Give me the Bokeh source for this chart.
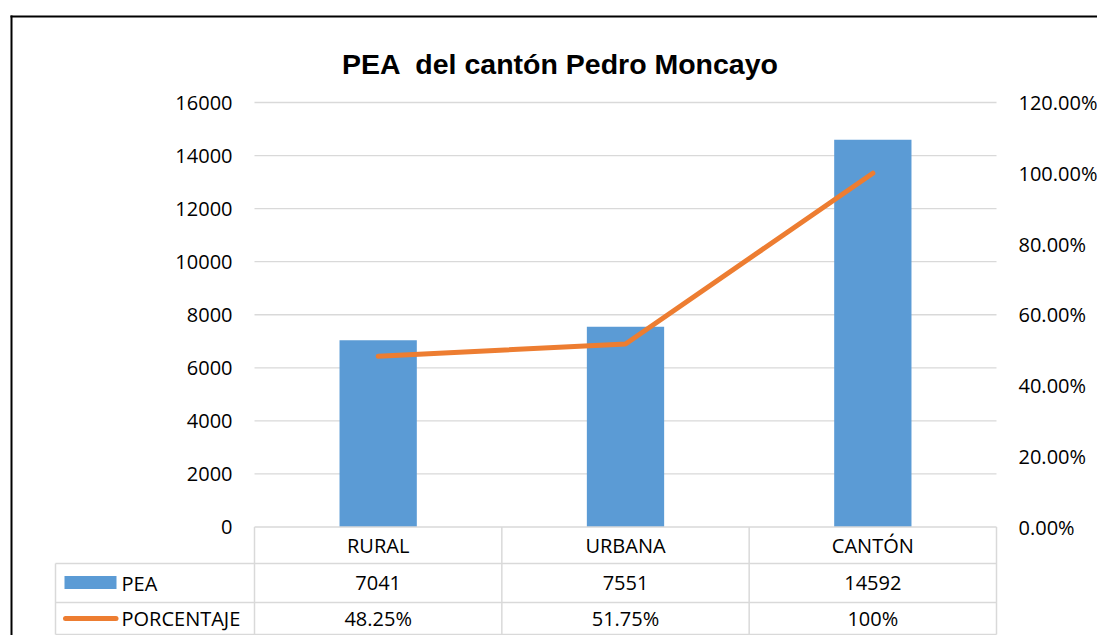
from bokeh.plotting import figure
from bokeh.models import Range1d
from bokeh.core.properties import value
from bokeh.embed import file_html
from bokeh.resources import INLINE

# ---------------- data ----------------
title = "PEA \u00a0del cantón Pedro Moncayo"
categories = ["RURAL", "URBANA", "CANTÓN"]
pea = [7041, 7551, 14592]
porcentaje = [0.4825, 0.5175, 1.0]
porcentaje_labels = ["48.25%", "51.75%", "100%"]
series_names = ["PEA", "PORCENTAJE"]
left_ticks = [0, 2000, 4000, 6000, 8000, 10000, 12000, 14000, 16000]
left_tick_labels = ["0", "2000", "4000", "6000", "8000", "10000", "12000", "14000", "16000"]
right_ticks = [0.0, 0.2, 0.4, 0.6, 0.8, 1.0, 1.2]
right_tick_labels = ["0.00%", "20.00%", "40.00%", "60.00%", "80.00%", "100.00%", "120.00%"]

# ---------------- layout (pixels) ----------------
W, H = 1097, 635
OFF = 0
PX_L, PX_R = 254, 996          # plot area left/right
PY0, PYMAX = 526.5, 102        # pixel of value 0 and of axis max
YMAX = left_ticks[-1]
Y2MAX = right_ticks[-1]
n = len(categories)
kx = (PX_R - PX_L) / n
ky = (PY0 - PYMAX) / YMAX


def X(px):
    return (px - PX_L) / kx


def Y(py):
    return (PY0 - py) / ky


FONT = value("Open Sans")
TXT = "#000000"
GRID = "#D9D9D9"
BLUE = "#5B9BD5"
ORANGE = "#ED7D31"

p = figure(width=W, height=H,
           x_range=Range1d(X(OFF), X(OFF + W)),
           y_range=Range1d(Y(OFF + H), Y(OFF)),
           output_backend="svg", toolbar_location=None,
           x_axis_location=None, y_axis_location=None,
           min_border=0, outline_line_color=None,
           background_fill_color="white", border_fill_color="white")
p.grid.visible = False
p.extra_y_ranges = {"pct": Range1d(p.y_range.start * Y2MAX / YMAX,
                                   p.y_range.end * Y2MAX / YMAX)}

xs = [i + 0.5 for i in range(n)]

# gridlines
g = left_ticks[1:]
p.segment(x0=[0] * len(g), x1=[n] * len(g), y0=g, y1=g,
          line_color=GRID, line_width=1.3)

# bars
p.vbar(x=xs, top=pea, width=0.3125, fill_color=BLUE, line_color=None)

# percentage line (secondary axis)
p.line(xs, porcentaje, y_range_name="pct", line_color=ORANGE,
       line_width=5, line_cap="round", line_join="round")

# left axis labels
p.text(x=[X(232)] * len(left_ticks), y=left_ticks, text=left_tick_labels,
       text_align="right", text_baseline="middle", text_font=FONT,
       text_font_size="20px", text_color=TXT)

# right axis labels
p.text(x=[X(1018)] * len(right_ticks), y=right_ticks, text=right_tick_labels,
       y_range_name="pct", text_align="left", text_baseline="middle",
       text_font=FONT, text_font_size="20px", text_color=TXT)

# ---------------- data table ----------------
ROW = [527, 563, 602, 634]
LEG_L = 55
TBL = "#D9D9D9"
# horizontal lines
p.segment(x0=[0], x1=[n], y0=[0], y1=[0], line_color=TBL, line_width=1.5)
hy = [Y(r) for r in ROW[1:]]
p.segment(x0=[X(LEG_L)] * len(hy), x1=[n] * len(hy), y0=hy, y1=hy,
          line_color=TBL, line_width=1.5)
# vertical lines
vx = list(range(n + 1))
p.segment(x0=vx, x1=vx, y0=[0] * len(vx), y1=[Y(ROW[-1])] * len(vx),
          line_color=TBL, line_width=1.5)
p.segment(x0=[X(LEG_L)], x1=[X(LEG_L)], y0=[Y(ROW[1])], y1=[Y(ROW[-1])],
          line_color=TBL, line_width=1.5)

row_c = [(ROW[i] + ROW[i + 1]) / 2 for i in range(3)]
p.text(x=xs, y=[Y(row_c[0])] * n, text=categories, text_align="center",
       text_baseline="middle", text_font=FONT, text_font_size="20px", text_color=TXT)
p.text(x=xs, y=[Y(row_c[1])] * n, text=[str(v) for v in pea], text_align="center",
       text_baseline="middle", text_font=FONT, text_font_size="20px", text_color=TXT)
p.text(x=xs, y=[Y(row_c[2])] * n, text=porcentaje_labels, text_align="center",
       text_baseline="middle", text_font=FONT, text_font_size="20px", text_color=TXT)

# legend keys
p.quad(left=[X(64)], right=[X(116)], top=[Y(row_c[1] - 7)], bottom=[Y(row_c[1] + 6)],
       fill_color=BLUE, line_color=None)
p.line([X(65), X(115.5)], [Y(row_c[2])] * 2, line_color=ORANGE, line_width=5,
       line_cap="round")
p.text(x=[X(121)] * 2, y=[Y(row_c[1]), Y(row_c[2])], text=series_names,
       text_align="left", text_baseline="middle", text_font=FONT,
       text_font_size="20px", text_color=TXT)

# title
p.text(x=[X(560)], y=[Y(63)], text=[title], text_align="center",
       text_baseline="alphabetic", text_font=value("Liberation Sans"),
       text_font_style="bold", text_font_size="28.5px", text_color=TXT)

# chart border (top and left)
p.line([X(10), X(OFF + W)], [Y(16)] * 2, line_color="black", line_width=2)
p.line([X(11)] * 2, [Y(15), Y(OFF + H)], line_color="black", line_width=2)

open("out.html", "w").write(file_html(p, INLINE))
